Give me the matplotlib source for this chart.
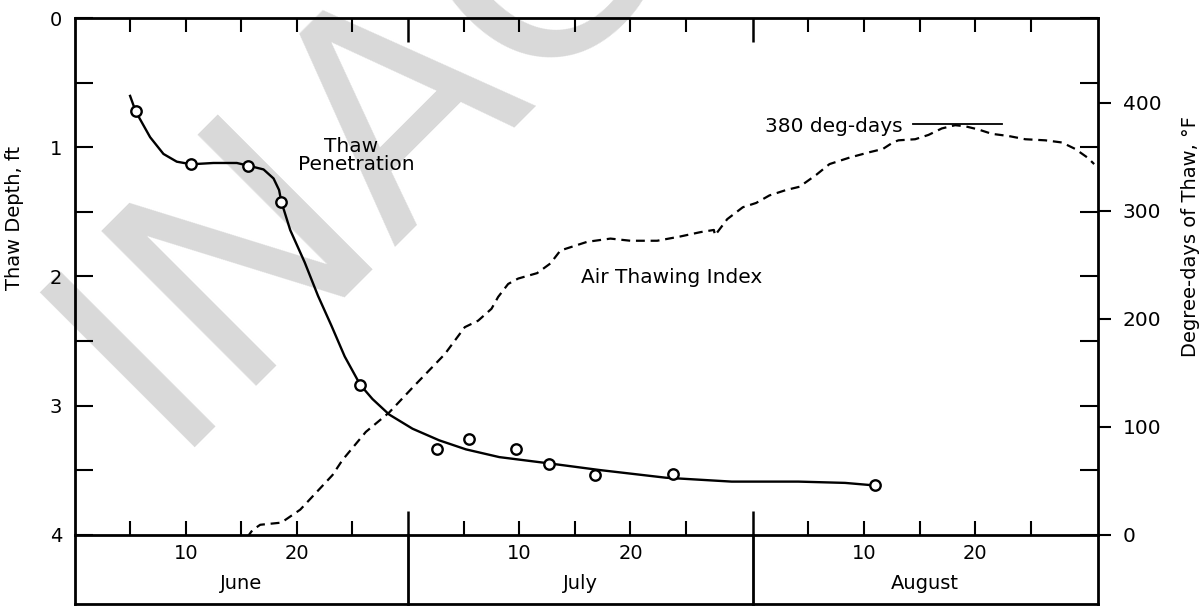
import matplotlib
matplotlib.use('Agg')
import matplotlib.pyplot as plt
from matplotlib.transforms import blended_transform_factory

# day numbers are counted from May 31 (June 1 = 1, July 1 = 31, Aug 1 = 62)

# thaw penetration observations
obs_day = [5.5, 10.5, 15.6, 18.6, 25.7, 32.6, 35.5, 39.7, 42.7, 46.8, 53.8, 72.0]
obs_depth = [0.72, 1.13, 1.14, 1.42, 2.84, 3.34, 3.26, 3.34, 3.45, 3.54, 3.53, 3.62]

curve_day = [5.0, 5.5, 6.8, 8.0, 9.2, 10.5, 12.5, 14.6, 15.6, 17.0, 17.9, 18.4, 18.6,
             19.4, 20.7, 21.9, 23.1, 24.3, 25.7, 26.8, 28.3, 30.4, 32.8, 35.2, 38.2,
             42.8, 47.2, 53.2, 59.1, 65.1, 69.3, 72.0]
curve_depth = [0.60, 0.72, 0.92, 1.05, 1.11, 1.13, 1.12, 1.12, 1.14, 1.17, 1.24, 1.33, 1.42,
               1.64, 1.89, 2.15, 2.38, 2.62, 2.84, 2.95, 3.07, 3.18, 3.27, 3.34, 3.40,
               3.45, 3.50, 3.56, 3.59, 3.59, 3.60, 3.62]

# air thawing index, degree-days
ati_day = [15.5, 16.0, 16.7, 18.6, 20.3, 23.2, 24.1, 26.2, 28.3, 30.4, 33.3, 35.1, 36.3,
           37.5, 38.1, 39.0, 39.9, 41.6, 42.8, 43.7, 44.9, 46.1, 48.2, 50.0, 52.4, 54.5,
           56.3, 57.5, 57.6, 58.7, 60.1, 61.3, 62.5, 64.0, 65.2, 66.7, 67.9, 69.7, 71.5,
           72.7, 73.6, 74.1, 75.6, 76.8, 78.0, 79.2, 80.1, 81.3, 82.5, 84.0, 85.5, 87.3,
           88.8, 90.0, 91.1, 91.7]
ati_dd = [-3, 4, 9, 11, 23, 55, 69, 95, 113, 136, 167, 192, 198,
          209, 220, 232, 237, 242, 251, 263, 267, 271, 274, 272, 272, 276,
          280, 282, 277, 292, 303, 307, 314, 319, 322, 333, 343, 349, 354,
          357, 363, 365, 366, 370, 376, 379, 378, 375, 371, 369, 366, 365,
          363, 357, 349, 343]

five_day_ticks = [5, 10, 15, 20, 25, 35, 40, 45, 50, 55, 66, 71, 76, 81, 86]
month_ends = [30, 61]
day_label_pos = [10, 20, 40, 50, 71, 81]
day_labels = ['10', '20', '10', '20', '10', '20']
month_pos = [15, 45.5, 76.5]
months = ['June', 'July', 'August']

W, H = 1204, 614
fig = plt.figure(figsize=(W / 100, H / 100), dpi=100)
fig.patch.set_facecolor('white')

# faint watermark behind everything
fig.text(166 / W, 1 - 447 / H, 'INACTIVE', fontsize=215, color='#d9d9d9',
         rotation=45, rotation_mode='anchor', ha='left', va='baseline', zorder=-1)

ax = fig.add_axes([74.5 / W, 79.5 / H, 1023 / W, 516 / H])
ax.set_facecolor('none')
ax2 = ax.twinx()
ax2.set_facecolor('none')

# thaw depth (left axis, downward)
ax.plot(curve_day, curve_depth, color='black', lw=1.7, zorder=3)
ax.plot(obs_day, obs_depth, 'o', ms=7.5, mfc='white', mec='black', mew=1.7, zorder=4)
ax.set_xlim(0, 92)
ax.set_ylim(4, 0)

# degree-days (right axis)
ax2.plot(ati_day, ati_dd, color='black', lw=1.6, dashes=(4, 2.6), zorder=3)
ax2.set_ylim(0, 477.8)
ax2.plot([75.4, 83.4], [380, 380], color='black', lw=1.3)
ax2.text(74.5, 378, '380 deg-days', ha='right', va='center', fontsize=14.5)
ax2.text(53.7, 238, 'Air Thawing Index', ha='center', va='center', fontsize=14.5)
ax.text(24.9, 0.99, 'Thaw', ha='center', va='center', fontsize=14.5)
ax.text(25.3, 1.13, 'Penetration', ha='center', va='center', fontsize=14.5)

# frame and ticks
for s in ax.spines.values():
    s.set_linewidth(2)
for s in ax2.spines.values():
    s.set_visible(False)

ax.set_xticks(five_day_ticks)
ax.set_xticks(month_ends, minor=True)
ax.tick_params(axis='x', which='major', direction='in', length=10, width=1.5,
               top=True, bottom=True, labelbottom=False)
ax.tick_params(axis='x', which='minor', direction='in', length=17, width=1.8,
               top=True, bottom=True)

ax.set_yticks([0, 1, 2, 3, 4])
ax.set_yticks([0.5, 1.5, 2.5, 3.5], minor=True)
ax.set_yticklabels(['0', '1', '2', '3', '4'])
ax.tick_params(axis='y', which='both', direction='in', length=13, width=1.5,
               left=True, right=True, labelright=False, labelsize=14, pad=9)

ax2.set_yticks([0, 100, 200, 300, 400])
ax2.tick_params(axis='y', direction='out', length=9, width=1.5, labelsize=14.5, pad=9)

# date box under the plot
tr = blended_transform_factory(ax.transData, ax.transAxes)
box_y = -0.1347
for x in [0, 92] + month_ends:
    ax.plot([x, x], [0, box_y], color='black', lw=2, transform=tr, clip_on=False)
ax.plot([0, 92], [box_y, box_y], color='black', lw=2, transform=tr, clip_on=False)
for x, lab in zip(day_label_pos, day_labels):
    ax.text(x, -0.036, lab, transform=tr, ha='center', va='center', fontsize=14)
for x, lab in zip(month_pos, months):
    ax.text(x, -0.094, lab, transform=tr, ha='center', va='center', fontsize=14)

fig.text(15 / W, 1 - 218 / H, 'Thaw Depth, ft', rotation=90, ha='center', va='center', fontsize=14)
fig.text(1190 / W, 1 - 237 / H, 'Degree-days of Thaw, °F', rotation=90, ha='center',
         va='center', fontsize=14)

fig.savefig('out.png', dpi=100)
